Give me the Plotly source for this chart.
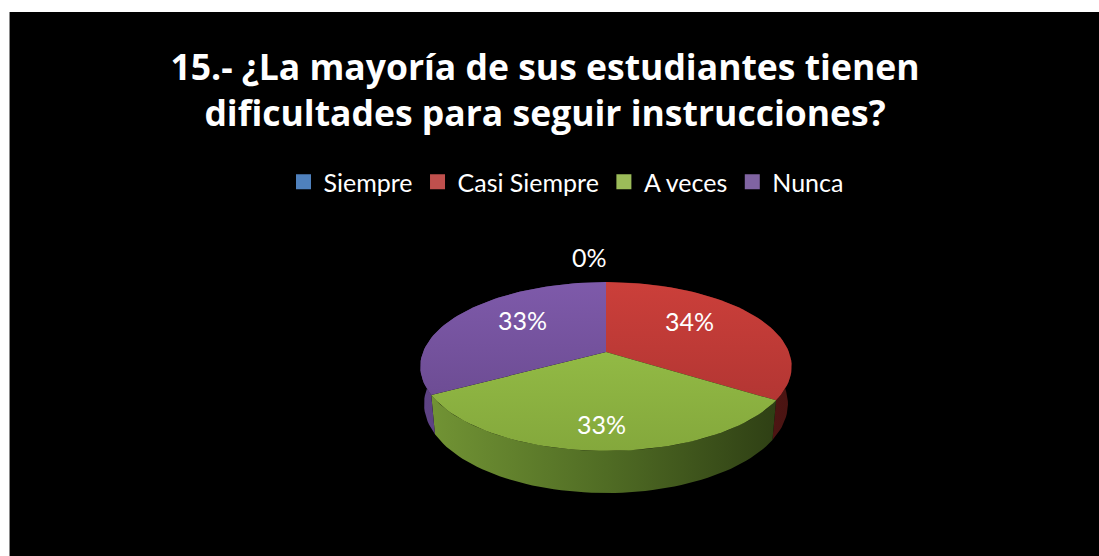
import numpy as np
import plotly.graph_objects as go

# ---------------- data ----------------
categories = ["Siempre", "Casi Siempre", "A veces", "Nunca"]
percent = [0, 34, 33, 33]
title_lines = ["15.- ¿La mayoría de sus estudiantes tienen", "dificultades para seguir instrucciones?"]

# ---------------- styles ----------------
base_colors = ["#4F81BD", "#C0504D", "#9BBB59", "#8064A2"]
top_grad = {
    "Siempre": ("#5B8FCF", "#3E6CA6"),
    "Casi Siempre": ("#CB3F3A", "#A93230"),
    "A veces": ("#9CC64B", "#84A83C"),
    "Nunca": ("#7E5AAA", "#654689"),
}
side_grad = {
    "Siempre": ("#3C6496", "#2B4A70", "#182A40"),
    "Casi Siempre": ("#8E2A27", "#6E1F1D", "#4A1412"),
    "A veces": ("#739535", "#506C24", "#2C3C13"),
    "Nunca": ("#5E4385", "#4A3369", "#2E1F42"),
}
FONT = "Lato"
TITLE_FONT = "Open Sans"
W, H = 1099, 556

# 3D pie projection parameters (pixel space)
CX, CY = 606.0, 352.0
FOCAL = 953.0
D0 = 5.21
ELEV = np.radians(26.6)
THICK = 0.2305
ce, se = np.cos(ELEV), np.sin(ELEV)


def proj(X, Y, Z):
    X, Y, Z = np.asarray(X, float), np.asarray(Y, float), np.asarray(Z, float)
    D = D0 + Y * ce - Z * se
    v = Y * se + Z * ce
    return CX + FOCAL * X / D, CY - FOCAL * v / D


total = float(sum(percent))
fracs = [p / total for p in percent]
starts = np.cumsum([0] + fracs[:-1]) * 2 * np.pi

# screen extents for gradients
xl, _ = proj(-1, 0, 0)
xr, _ = proj(1, 0, 0)
_, yt = proj(0, 1, 0)
_, yb = proj(0, -1, 0)

fig = go.Figure()

side_traces, top_traces, labels = [], [], []
for cat, f, a0 in zip(categories, fracs, starts):
    a1 = a0 + f * 2 * np.pi
    if f > 0:
        n = max(3, int(np.degrees(a1 - a0) / 2))
        phi = np.linspace(a0, a1, n)
        X, Y = np.sin(phi), np.cos(phi)
        tx, ty = proj(X, Y, np.zeros_like(X))
        bx, by = proj(X, Y, np.full_like(X, -THICK))
        sx = np.concatenate([tx, bx[::-1], tx[:1]])
        sy = np.concatenate([ty, by[::-1], ty[:1]])
        s0, s1, s2 = side_grad[cat]
        side_traces.append(go.Scatter(
            x=sx, y=sy, mode="lines", fill="toself", line=dict(width=0),
            fillgradient=dict(type="horizontal", start=float(xl), stop=float(xr),
                              colorscale=[[0, s0], [0.5, s1], [1, s2]]),
            hoverinfo="skip", showlegend=False))
        cx0, cy0 = proj(0, 0, 0)
        px = np.concatenate([[cx0], tx, [cx0]])
        py = np.concatenate([[cy0], ty, [cy0]])
        t0, t1 = top_grad[cat]
        top_traces.append(go.Scatter(
            x=px, y=py, mode="lines", fill="toself", line=dict(width=0),
            fillgradient=dict(type="vertical", start=float(yt), stop=float(yb),
                              colorscale=[[0, t0], [1, t1]]),
            hoverinfo="skip", showlegend=False))
    mid = (a0 + a1) / 2
    Xm, Ym = np.sin(mid), np.cos(mid)
    pct = f"{round(f * 100)}%"
    if f > 0:
        lx, ly = proj(0.55 * Xm, 0.55 * Ym, 0)
        ly = ly - 10 + 32 * max(0.0, -Ym)
        labels.append(dict(x=float(lx) - 1, y=float(ly), text=pct, xanchor="center", yanchor="middle"))
    else:
        lx, ly = proj(Xm, Ym, 0)
        labels.append(dict(x=float(lx) + 3, y=float(ly) - 25, text=pct, xanchor="right", yanchor="middle"))

for t in side_traces + top_traces:
    fig.add_trace(t)

# legend entries
for cat, col in zip(categories, base_colors):
    fig.add_trace(go.Scatter(
        x=[None], y=[None], mode="markers", name=cat,
        marker=dict(symbol="square", size=15, color=col, line=dict(width=0)),
        showlegend=True))

for lab in labels:
    fig.add_annotation(x=lab["x"], y=lab["y"], xref="x", yref="y", text=lab["text"],
                       showarrow=False, xanchor=lab["xanchor"], yanchor=lab["yanchor"],
                       font=dict(family=FONT, size=25, color="white"))

# white page border (top and left) around the black chart area
fig.add_shape(type="rect", xref="x", yref="y", x0=0, x1=9, y0=0, y1=H,
              fillcolor="white", line=dict(width=0), layer="above")
fig.add_shape(type="rect", xref="x", yref="y", x0=0, x1=W, y0=0, y1=12,
              fillcolor="white", line=dict(width=0), layer="above")
fig.add_shape(type="line", xref="x", yref="y", x0=9.5, x1=9.5, y0=12, y1=H,
              line=dict(color="#8a8a8a", width=1), layer="above")

fig.update_layout(
    width=W, height=H,
    margin=dict(l=0, r=0, t=0, b=0, pad=0),
    paper_bgcolor="black", plot_bgcolor="black",
    xaxis=dict(range=[0, W], visible=False, fixedrange=True),
    yaxis=dict(range=[H, 0], visible=False, fixedrange=True),
    title=dict(text="<br>".join(title_lines), x=545 / W, xanchor="center",
               y=1 - 80 / H, yanchor="middle", yref="container",
               font=dict(family=TITLE_FONT, size=35.5, color="white", weight=700)),
    legend=dict(orientation="h", x=566 / W, xanchor="center", y=1 - 182 / H, yanchor="middle",
                font=dict(family=FONT, size=25, color="white"), bgcolor="rgba(0,0,0,0)",
                itemwidth=30, traceorder="normal"),
    showlegend=True,
)

fig.write_html(
    "out.html",
    config={"displayModeBar": False},
    post_script="document.body.style.margin='0';document.body.style.padding='0';"
                "document.documentElement.style.overflow='hidden';",
)
